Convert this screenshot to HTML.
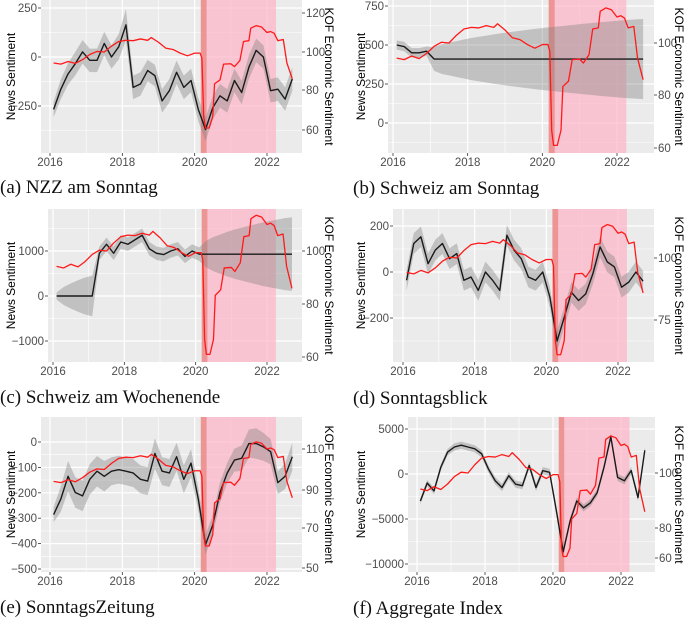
<!DOCTYPE html>
<html><head><meta charset="utf-8">
<style>
html,body{margin:0;padding:0;background:#fff;}
svg{display:block;font-family:"Liberation Sans",sans-serif;}
.cap{font-family:"Liberation Serif",serif;font-size:19px;fill:#111;}
</style></head>
<body>
<svg id="fig" width="685" height="619" viewBox="0 0 685 619"></svg>
<script>
// shared time grid for news sentiment series (years)
const T = [2016.1,2016.3,2016.5,2016.7,2016.9,2017.1,2017.3,2017.5,2017.7,2017.9,2018.1,2018.3,2018.5,2018.7,2018.9,2019.1,2019.3,2019.5,2019.7,2019.9,2020.1,2020.3,2020.5,2020.7,2020.9,2021.1,2021.3,2021.5,2021.7,2021.9,2022.1,2022.3,2022.5,2022.7];
// KOF economic sentiment
const kofT = [2016.1,2016.3,2016.5,2016.7,2016.9,2017.1,2017.3,2017.5,2017.7,2017.9,2018.1,2018.3,2018.5,2018.7,2018.8,2019.0,2019.2,2019.4,2019.6,2019.8,2020.0,2020.15,2020.2,2020.25,2020.3,2020.4,2020.5,2020.55,2020.7,2020.8,2021.0,2021.1,2021.25,2021.35,2021.5,2021.55,2021.7,2021.85,2022.0,2022.1,2022.2,2022.3,2022.45,2022.55,2022.7];
const kofV = [94.2,93.6,95,94,96,98.7,100.3,100,103,105.4,106,105.8,106.7,106,107.4,105,102,101.3,99.4,98,99.4,99.4,96.8,66.7,61,61,66.7,83.3,85.3,93.6,93.8,92.3,95.5,105.4,105.8,112.2,113.5,112.8,110,110.5,109.6,105.8,106.4,94.2,85.9];
// news sentiment per outlet (values) and ribbon half-widths
const nzzV = [-267,-164,-86,-34,26,-17,-17,69,0,52,164,-155,-138,-69,-95,-224,-172,-78,-155,-120,-267,-370,-259,-198,-224,-120,-181,-52,34,0,-172,-164,-215,-112];
const nzzW = [40,50,55,60,60,60,60,60,60,65,80,60,60,55,55,60,60,60,60,60,60,60,60,60,60,60,60,60,60,60,60,60,60,60];
const sasV = [500,490,450,450,460,410,410,410,410,410,410,410,410,410,410,410,410,410,410,410,410,410,410,410,410,410,410,410,410,410,410,410,410,410];
const sasW = [30,30,30,30,30,75,95,105,115,125,135,143,150,158,165,172,178,184,190,196,201,206,211,216,221,226,230,235,239,243,247,251,254,257];
const sawV = [0,0,0,0,0,0,950,1150,950,1200,1150,1250,1350,1050,950,920,1000,1050,880,1000,930,930,930,930,930,930,930,930,930,930,930,930,930,930];
const sawW = [80,200,280,350,410,450,150,150,150,150,150,150,150,150,150,150,150,150,150,150,150,300,380,440,500,550,590,630,670,710,740,770,800,820];
const sbV = [-36,124,153,36,95,124,58,80,-36,-22,-80,0,-36,-80,160,95,58,-22,-36,0,-110,-300,-197,-88,-124,-95,-7,109,44,22,-66,-44,0,-40];
const sbW = [45,45,45,45,45,45,45,45,45,45,45,45,45,45,45,45,45,45,45,45,45,45,45,45,45,45,45,45,45,45,45,45,45,45];
const szV = [-286,-224,-135,-199,-212,-147,-115,-135,-115,-109,-115,-122,-147,-154,-45,-115,-122,-58,-147,-83,-224,-404,-327,-199,-122,-71,-64,-6,-6,-19,-38,-160,-135,-58];
const szW = [30,50,60,60,60,60,60,60,55,55,55,55,55,55,60,55,55,55,55,55,45,40,40,40,40,45,50,55,60,55,50,45,50,55];
const aggV = [-3000,-1000,-1880,750,2440,3000,3200,3000,2800,2250,560,-750,-1500,-190,-1130,-1300,940,-1500,375,190,-4100,-8650,-5260,-3000,-3760,-3200,-2070,750,4140,-375,-750,375,-2630,2630];
const aggW = [350,350,350,350,350,400,400,400,400,400,400,400,400,400,400,400,400,400,400,400,400,400,400,400,400,400,400,400,400,400,400,400,400,400];
// tick labels
const xTicks = [2016,2018,2020,2022];

const NS = "http://www.w3.org/2000/svg";
const fig = document.getElementById('fig');
function el(tag, attrs, parent){const e=document.createElementNS(NS,tag);for(const k in attrs)e.setAttribute(k,attrs[k]);(parent||fig).appendChild(e);return e;}

const panels = [
 {id:'a',cap:'(a) NZZ am Sonntag',capX:0,capY:193,x0:41,x1:302,y0:0,y1:153,xa:50,xb:267,lv:[0,250],ly:[57,8],lt:[250,0,-250],lmin:[-375,125,-125],rt:[120,100,80,60],ry:[13,52,90,130],v:nzzV,w:nzzW,tl:15,tr:325},
 {id:'b',cap:'(b) Schweiz am Sonntag',capX:353,capY:194,x0:388,x1:654,y0:0,y1:153,xa:393,xb:617,lv:[0,750],ly:[123,6],lt:[750,500,250,0],lmin:[625,375,125,-125],rt:[100,80,60],ry:[43,95,148],v:sasV,w:sasW,tl:365,tr:675},
 {id:'c',cap:'(c) Schweiz am Wochenende',capX:0,capY:403,x0:48,x1:302,y0:209,y1:362,xa:53,xb:267,lv:[0,1000],ly:[296,251],lt:[1000,0,-1000],lmin:[1500,500,-500],rt:[100,80,60],ry:[251,304,357],v:sawV,w:sawW,tl:15,tr:325},
 {id:'d',cap:'(d) Sonntagsblick',capX:353,capY:404,x0:393,x1:654,y0:209,y1:362,xa:403,xb:618,lv:[0,200],ly:[272,226],lt:[200,0,-200],lmin:[100,-100,-300],rt:[100,75],ry:[258,320],v:sbV,w:sbW,tl:365,tr:675},
 {id:'e',cap:'(e) SonntagsZeitung',capX:0,capY:613,x0:41,x1:302,y0:417,y1:572,xa:50,xb:267,lv:[0,-500],ly:[442,569],lt:[0,-100,-200,-300,-400,-500],lmin:[-50,-150,-250,-350,-450],rt:[110,90,70,50],ry:[449,490,528,568],v:szV,w:szW,tl:15,tr:325},
 {id:'f',cap:'(f) Aggregate Index',capX:353,capY:614,x0:408,x1:655,y0:417,y1:572,xa:417,xb:621,lv:[0,5000],ly:[474,429],lt:[5000,0,-5000,-10000],lmin:[2500,-2500,-7500],rt:[100,80,60],ry:[473,528,558],v:aggV,w:aggW,tl:365,tr:675}
];

function piece(vals, ys, v){
  const pts = vals.map((t,i)=>[t,ys[i]]).sort((p,q)=>p[0]-q[0]);
  let i=0; while(i<pts.length-2 && v>pts[i+1][0]) i++;
  const [a,ya]=pts[i],[b,yb]=pts[i+1];
  return ya+(v-a)*(yb-ya)/(b-a);
}

panels.forEach(p=>{
  const g = el('g',{});
  
  
  const X = t => p.xa + (t-2016)*(p.xb-p.xa)/6;
  const Y = v => p.ly[0] + (v-p.lv[0])*(p.ly[1]-p.ly[0])/(p.lv[1]-p.lv[0]);
  const R = v => piece(p.rt, p.ry, v);
  const clipId='clip'+p.id;
  const cp=el('clipPath',{id:clipId},g); el('rect',{x:p.x0,y:p.y0,width:p.x1-p.x0,height:p.y1-p.y0},cp);
  const bg=el('rect',{x:p.x0,y:p.y0,width:p.x1-p.x0,height:p.y1-p.y0,fill:'#EBEBEB'},g);
  
  
  const inner=el('g',{'clip-path':'url(#'+clipId+')'},g);
  p.lmin.forEach(v=>el('line',{x1:p.x0,x2:p.x1,y1:Y(v),y2:Y(v),stroke:'#fff','stroke-width':0.6},inner));
  [2017,2019,2021].forEach(t=>el('line',{x1:X(t),x2:X(t),y1:p.y0,y2:p.y1,stroke:'#fff','stroke-width':0.6},inner));
  p.lt.forEach(v=>el('line',{x1:p.x0,x2:p.x1,y1:Y(v),y2:Y(v),stroke:'#fff','stroke-width':1.2},inner));
  xTicks.forEach(t=>el('line',{x1:X(t),x2:X(t),y1:p.y0,y2:p.y1,stroke:'#fff','stroke-width':1.2},inner));
  const sh=el('rect',{x:X(2020.17),y:p.y0,width:X(2022.25)-X(2020.17),height:p.y1-p.y0,fill:'#FFB3C6','fill-opacity':0.7},inner);
  
  
  const sh2=el('rect',{x:X(2020.17),y:p.y0,width:X(2020.33)-X(2020.17),height:p.y1-p.y0,fill:'#E8857F','fill-opacity':0.75},inner);
  
  
  let up=T.map((t,i)=>X(t)+','+Y(p.v[i]+p.w[i]));
  let lo=T.map((t,i)=>X(t)+','+Y(p.v[i]-p.w[i])).reverse();
  const rib=el('polygon',{points:up.concat(lo).join(' '),fill:'#7f7f7f','fill-opacity':0.38},inner);
  
  
  const bl=el('polyline',{points:T.map((t,i)=>X(t)+','+Y(p.v[i])).join(' '),fill:'none',stroke:'#1a1a1a','stroke-width':1.4,'stroke-linejoin':'round'},inner);
  
  
  const rl=el('polyline',{points:kofT.map((t,i)=>X(t)+','+R(kofV[i])).join(' '),fill:'none',stroke:'#FF1A1A','stroke-width':1.3,'stroke-linejoin':'round'},inner);
  
  
  p.lt.forEach(v=>{
    el('line',{x1:p.x0-3,x2:p.x0,y1:Y(v),y2:Y(v),stroke:'#333','stroke-width':0.8},g);
    const tx=el('text',{x:p.x0-4,y:Y(v)+4,'text-anchor':'end','font-size':11.5,fill:'#4D4D4D'},g);
    tx.textContent=String(v).replace('-','\u2212');
    
    
  });
  p.rt.forEach((v,i)=>{
    el('line',{x1:p.x1,x2:p.x1+3,y1:p.ry[i],y2:p.ry[i],stroke:'#333','stroke-width':0.8},g);
    const tx=el('text',{x:p.x1+4,y:p.ry[i]+4,'font-size':11.5,fill:'#4D4D4D'},g);
    tx.textContent=v;
    
    
  });
  xTicks.forEach(t=>{
    el('line',{x1:X(t),x2:X(t),y1:p.y1,y2:p.y1+3,stroke:'#333','stroke-width':0.8},g);
    const tx=el('text',{x:X(t),y:p.y1+13,'text-anchor':'middle','font-size':11.5,fill:'#4D4D4D'},g);
    tx.textContent=t;
    
    
  });
  const cy=(p.y0+p.y1)/2;
  const lab=el('text',{x:0,y:0,'text-anchor':'middle','font-size':12,fill:'#000',transform:'translate('+p.tl+','+cy+') rotate(-90)'},g);
  lab.textContent='News Sentiment';
  
  
  const lab2=el('text',{x:0,y:0,'text-anchor':'middle','font-size':12,fill:'#000',transform:'translate('+p.tr+','+cy+') rotate(90)'},g);
  lab2.textContent='KOF Economic Sentiment';
  
  
  const cap=el('text',{x:p.capX,y:p.capY,'class':'cap'},g);
  cap.textContent=p.cap;
  
  
});
</script>
</body></html>
